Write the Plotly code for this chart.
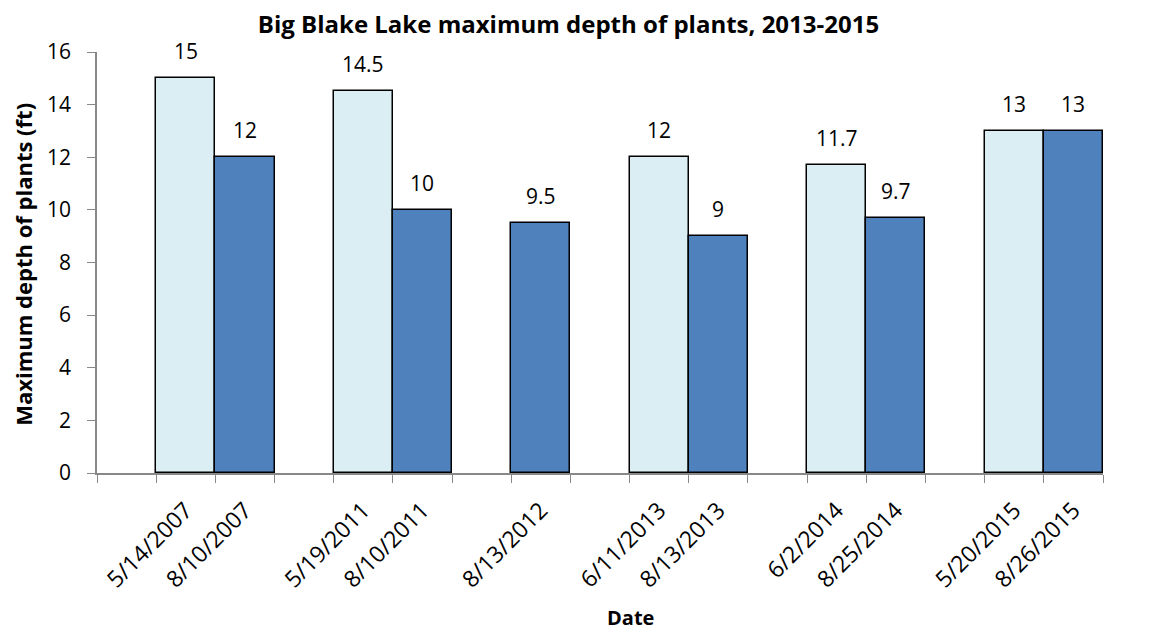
import plotly.graph_objects as go

# Axis categories in display order (blank spacer slots between sampling years)
categories = [" ", "5/14/2007", "8/10/2007", "  ", "5/19/2011", "8/10/2011", "   ",
              "8/13/2012", "    ", "6/11/2013", "8/13/2013", "     ", "6/2/2014",
              "8/25/2014", "      ", "5/20/2015", "8/26/2015"]

# Early-season surveys (light bars)
early_dates = ["5/14/2007", "5/19/2011", "6/11/2013", "6/2/2014", "5/20/2015"]
early_depth = [15, 14.5, 12, 11.7, 13]

# Late-season surveys (dark bars)
late_dates = ["8/10/2007", "8/10/2011", "8/13/2012", "8/13/2013", "8/25/2014", "8/26/2015"]
late_depth = [12, 10, 9.5, 9, 9.7, 13]

FONT = "Open Sans"
fig = go.Figure()
fig.add_trace(go.Bar(x=early_dates, y=early_depth, name="Early",
                     marker=dict(color="#DBEEF4", line=dict(color="black", width=1.5))))
fig.add_trace(go.Bar(x=late_dates, y=late_depth, name="Late",
                     marker=dict(color="#4F81BD", line=dict(color="black", width=1.5))))

for xs, ys in ((early_dates, early_depth), (late_dates, late_depth)):
    for x, y in zip(xs, ys):
        fig.add_annotation(x=x, y=y, text=f"{y:g}", showarrow=False, yanchor="bottom",
                           yshift=11, font=dict(family=FONT, size=21, color="black"))

fig.add_annotation(text="<b>Maximum depth of plants (ft)</b>", xref="paper", yref="paper",
                   x=-0.0736, y=0.497, textangle=-90, showarrow=False, xanchor="center",
                   yanchor="middle", font=dict(family=FONT, size=22, color="black"))
fig.add_annotation(text="<b>Date</b>", xref="paper", yref="paper", x=0.530, y=-0.343,
                   showarrow=False, xanchor="center", yanchor="middle",
                   font=dict(family=FONT, size=20, color="black"))

# The page body has an 8px margin, so the figure is sized/offset to compensate.
fig.update_layout(
    width=1145, height=623,
    margin=dict(l=89, r=50, t=44, b=158),
    paper_bgcolor="white", plot_bgcolor="white",
    barmode="overlay", bargap=0, showlegend=False,
    title=dict(text="<b>Big Blake Lake maximum depth of plants, 2013-2015</b>",
               x=0.4895, xanchor="center", y=0.973, yanchor="middle",
               font=dict(family=FONT, size=24, color="black")),
    font=dict(family=FONT, size=20, color="black"),
)
fig.update_xaxes(type="category", categoryorder="array", categoryarray=categories,
                 range=[-0.5, len(categories) - 0.5],
                 tickson="boundaries", ticks="outside", ticklen=8, tickcolor="#888888",
                 tickangle=-45, showline=True, linecolor="#888888", linewidth=1.5,
                 showgrid=False, ticklabelstandoff=13,
                 tickfont=dict(family=FONT, size=23, color="black"))
fig.update_yaxes(range=[0, 16], dtick=2, ticks="outside", ticklen=8, tickcolor="#888888",
                 showline=True, linecolor="#888888", linewidth=1.5, showgrid=False,
                 zeroline=False, ticklabelstandoff=12,
                 tickfont=dict(family=FONT, size=21, color="black"))

fig.write_html("out.html")
